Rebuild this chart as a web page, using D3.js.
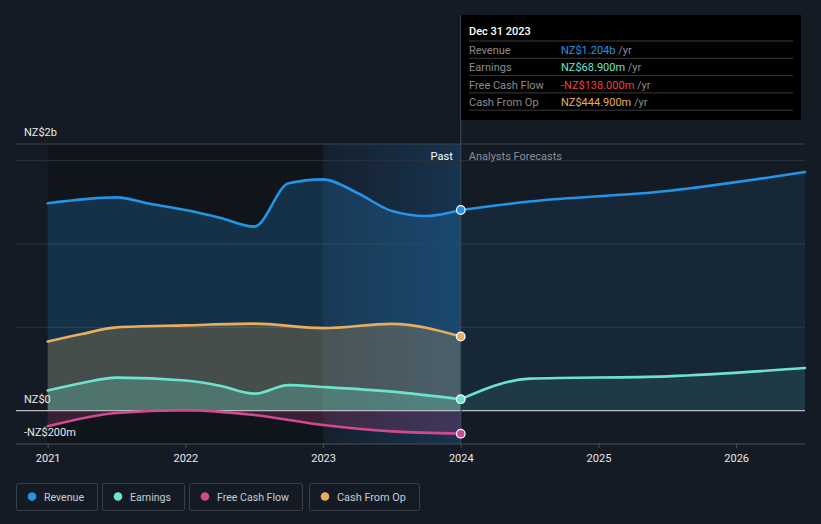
<!DOCTYPE html>
<html>
<head>
<meta charset="utf-8">
<script src="https://cdn.jsdelivr.net/npm/d3@7"></script>
<style>
  html, body { margin: 0; padding: 0; background: #151b25; }
  svg { display: block; font-family: Roboto, "Noto Sans", sans-serif; }
</style>
</head>
<body>
<svg id="chart" width="821" height="524"></svg>
<script>
// values in NZ$ millions, time in fractional years
const revenuePast = [[2021.0, 1244], [2021.5, 1280], [2021.75, 1240], [2022.0, 1204], [2022.25, 1158], [2022.5, 1104],
  [2022.75, 1364], [2023.0, 1388], [2023.25, 1306], [2023.5, 1198], [2023.75, 1168], [2024.0, 1204]];
const revenueForecast = [[2024.0, 1204], [2024.5, 1255], [2025.5, 1318], [2026.5, 1432]];
const earningsPast = [[2021.0, 121], [2021.25, 166], [2021.5, 198], [2022.0, 181], [2022.25, 150], [2022.5, 102],
  [2022.75, 153], [2023.0, 142], [2023.5, 114], [2024.0, 68.9]];
const earningsForecast = [[2024.0, 68.9], [2024.5, 192], [2025.5, 206], [2026.5, 256]];
const fcfPast = [[2021.0, -94], [2021.5, -14], [2022.0, 3], [2022.5, -26], [2023.0, -86], [2023.5, -124], [2024.0, -138]];
const cfoPast = [[2021.0, 415], [2021.25, 460], [2021.5, 500], [2022.0, 512], [2022.5, 522], [2023.0, 495], [2023.5, 521], [2024.0, 444.9]];

const yearTicks = [2021, 2022, 2023, 2024, 2025, 2026];
const yLabels = [[1600, "NZ$2b"], [0, "NZ$0"], [-200, "-NZ$200m"]];
const gridValues = [500, 1000, 1500];

const seriesNames = ["Revenue", "Earnings", "Free Cash Flow", "Cash From Op"];
const seriesColors = ["#2394e6", "#6de3cd", "#cf4a8e", "#e8ad5e"];
const tooltipValues = ["NZ$1.204b", "NZ$68.900m", "-NZ$138.000m", "NZ$444.900m"];
const tooltipColors = ["#2394e6", "#6de3cd", "#e84444", "#e8ad5e"];

const svg = d3.select("#chart");
const x = d3.scaleLinear().domain([2020.77, 2026.5]).range([16, 805]);
const y = d3.scaleLinear().domain([-200, 1600]).range([444, 144]);
const nowX = x(2024);

const defs = svg.append("defs");
const hl = defs.append("linearGradient").attr("id", "hl").attr("x1", 0).attr("x2", 1);
hl.append("stop").attr("offset", 0).attr("stop-color", "#2196f3").attr("stop-opacity", 0.04);
hl.append("stop").attr("offset", 1).attr("stop-color", "#2196f3").attr("stop-opacity", 0.2);

// past shading
svg.append("rect").attr("x", x(2021)).attr("y", 144).attr("width", x(2023) - x(2021)).attr("height", 300)
  .attr("fill", "#0d1016").attr("opacity", 0.55);
svg.append("rect").attr("x", x(2023)).attr("y", 144).attr("width", nowX - x(2023)).attr("height", 300)
  .attr("fill", "url(#hl)");

// grid
svg.append("line").attr("x1", 16).attr("x2", 805).attr("y1", 144).attr("y2", 144).attr("stroke", "#3a414b");
svg.selectAll(".grid").data(gridValues).join("line")
  .attr("x1", 16).attr("x2", 805)
  .attr("y1", d => y(d)).attr("y2", d => y(d))
  .attr("stroke", "#2a323d");

const area = d3.area().x(d => x(d[0])).y0(y(0)).y1(d => y(d[1])).curve(d3.curveMonotoneX);
const line = d3.line().x(d => x(d[0])).y(d => y(d[1])).curve(d3.curveMonotoneX);

const areas = [
  [revenuePast, 0, 0.22], [revenueForecast, 0, 0.1],
  [cfoPast, 3, 0.24],
  [earningsPast, 1, 0.26], [earningsForecast, 1, 0.1],
  [fcfPast, 2, 0.22]
];
areas.forEach(([data, i, op]) => {
  svg.append("path").attr("d", area(data)).attr("fill", seriesColors[i]).attr("opacity", op);
});

// zero line
svg.append("line").attr("x1", 16).attr("x2", 805).attr("y1", y(0)).attr("y2", y(0))
  .attr("stroke", "#b8bcc2").attr("stroke-width", 1.3);

const lines = [[revenuePast, 0], [revenueForecast, 0], [cfoPast, 3], [earningsPast, 1], [earningsForecast, 1], [fcfPast, 2]];
lines.forEach(([data, i]) => {
  svg.append("path").attr("d", line(data)).attr("fill", "none")
    .attr("stroke", seriesColors[i]).attr("stroke-width", 2.6).attr("stroke-linecap", "round");
});

// now marker line
svg.append("line").attr("x1", nowX).attr("x2", nowX).attr("y1", 15).attr("y2", 444)
  .attr("stroke", "#3b4b5c").attr("stroke-width", 1);

const nowPoints = [[1204, 0], [68.9, 1], [-138, 2], [444.9, 3]];
svg.selectAll(".dot").data(nowPoints).join("circle")
  .attr("cx", nowX).attr("cy", d => y(d[0])).attr("r", 4.3)
  .attr("fill", d => seriesColors[d[1]]).attr("stroke", "#ffffff").attr("stroke-width", 1.2);

// x axis
const xAxis = svg.append("g").attr("transform", "translate(0,444)")
  .call(d3.axisBottom(x).tickValues(yearTicks).tickFormat(d3.format("d")).tickSize(4).tickPadding(6));
xAxis.select(".domain").attr("stroke", "#4a5059").attr("d", "M16,0H805");
xAxis.selectAll(".tick line").attr("stroke", "#4a5059");
xAxis.selectAll(".tick text").attr("fill", "#e8e8e8").attr("font-size", 11).attr("font-family", "Roboto");

// y labels
const yLabelPos = d => d[0] === 1600 ? 136 : (d[0] < 0 ? y(d[0]) - 8 : y(d[0]) - 8);
svg.selectAll(".ylab").data(yLabels).join("text")
  .attr("x", 24).attr("y", yLabelPos)
  .attr("fill", "#e8e8e8").attr("font-size", 11).text(d => d[1]);

svg.append("text").attr("x", nowX - 8).attr("y", 160).attr("text-anchor", "end")
  .attr("fill", "#ffffff").attr("font-size", 11).text("Past");
svg.append("text").attr("x", nowX + 8).attr("y", 160)
  .attr("fill", "#8a8f96").attr("font-size", 11).text("Analysts Forecasts");

// tooltip
const tip = svg.append("g").attr("transform", "translate(461,15)");
tip.append("rect").attr("width", 340).attr("height", 105).attr("fill", "#000000");
tip.append("text").attr("x", 8).attr("y", 20).attr("fill", "#ffffff").attr("font-size", 11).attr("font-weight", 500)
  .text("Dec 31 2023");
seriesNames.forEach((name, i) => {
  const ty = 26 + i * 17.3;
  tip.append("line").attr("x1", 8).attr("x2", 332).attr("y1", ty).attr("y2", ty).attr("stroke", "#3a3a3a");
  tip.append("text").attr("x", 8).attr("y", ty + 13).attr("fill", "#8c8c8c").attr("font-size", 11).text(name);
  const t = tip.append("text").attr("x", 100).attr("y", ty + 13).attr("font-size", 11);
  t.append("tspan").attr("fill", tooltipColors[i]).text(tooltipValues[i]);
  t.append("tspan").attr("fill", "#8c8c8c").text(" /yr");
});
tip.append("line").attr("x1", 8).attr("x2", 332).attr("y1", 26 + 4 * 17.3).attr("y2", 26 + 4 * 17.3).attr("stroke", "#3a3a3a");

// legend
const legendX = [16, 102, 189, 309];
const legendW = [81, 82, 113, 110];
seriesNames.forEach((name, i) => {
  const g = svg.append("g").attr("transform", `translate(${legendX[i]},483)`);
  g.append("rect").attr("x", 0.5).attr("y", 0.5).attr("width", legendW[i]).attr("height", 27).attr("rx", 2)
    .attr("fill", "none").attr("stroke", "#3a3f47");
  g.append("circle").attr("cx", 16).attr("cy", 13.5).attr("r", 4.3).attr("fill", seriesColors[i]);
  g.append("text").attr("x", 28).attr("y", 17.5).attr("fill", "#c8cbd0").attr("font-size", 11)
    .attr("textLength", legendW[i] - 41).attr("lengthAdjust", "spacingAndGlyphs").text(name);
});
</script>
</body>
</html>
